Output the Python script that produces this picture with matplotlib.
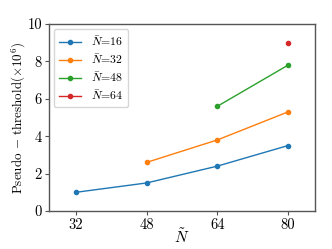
import matplotlib
matplotlib.use("Agg")
import matplotlib.pyplot as plt

plt.rcParams['font.family'] = 'serif'
plt.rcParams['font.serif'] = ['cmr10']
plt.rcParams['mathtext.fontset'] = 'cm'
plt.rcParams['axes.formatter.use_mathtext'] = True

x16 = [32, 48, 64, 80]
y16 = [1.0, 1.5, 2.4, 3.5]
x32 = [48, 64, 80]
y32 = [2.6, 3.8, 5.3]
x48 = [64, 80]
y48 = [5.6, 7.8]
x64 = [80]
y64 = [9.0]
labels = [r'$\bar{N}$=16', r'$\bar{N}$=32', r'$\bar{N}$=48', r'$\bar{N}$=64']
xticks = [32, 48, 64, 80]
yticks = [0, 2, 4, 6, 8, 10]

fig = plt.figure(figsize=(3.32, 2.49), dpi=100)
ax = fig.add_axes([49/332, 1-211/249, (315-49)/332, (211-24)/249])

for xs, ys, lab, c in zip([x16, x32, x48, x64], [y16, y32, y48, y64], labels,
                          ['#1f77b4', '#ff7f0e', '#2ca02c', '#d62728']):
    ax.plot(xs, ys, '-o', color=c, lw=1.0, ms=3, label=lab)

ax.set_xlim(25.9, 86.1)
ax.set_ylim(0, 10)
ax.set_xticks(xticks)
ax.set_xticklabels([str(t) for t in xticks])
ax.set_yticks(yticks)
ax.set_yticklabels([str(t) for t in yticks])
ax.tick_params(labelsize=10.5, length=3, width=0.8, color='#555555', pad=2)
for s in ax.spines.values():
    s.set_color('#555555')
    s.set_linewidth(1.0)
ax.set_xlabel(r'$\tilde{N}$', fontsize=11)
ax.xaxis.set_label_coords(0.5, -0.085)
ax.set_ylabel(r'$\mathrm{Pseudo}\,-\,\mathrm{threshold}(\times 10^6)$', fontsize=9.4)
ax.yaxis.set_label_coords(-0.08, 0.5)
ax.legend(loc='upper left', fontsize=8.5, handlelength=1.9, borderpad=0.45,
          labelspacing=0.35, handletextpad=0.8, borderaxespad=0.4)
fig.savefig('out.png', dpi=100)
